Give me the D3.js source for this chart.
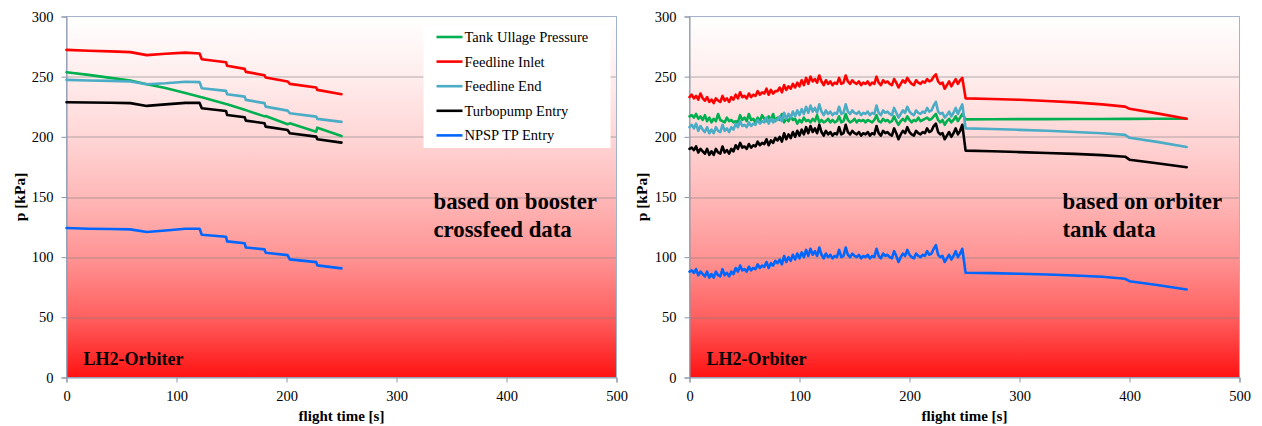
<!DOCTYPE html>
<html>
<head>
<meta charset="utf-8">
<script src="https://cdn.jsdelivr.net/npm/d3@7"></script>
<style>
  html, body { margin: 0; padding: 0; background: #fff; }
  svg { display: block; }
  text { font-family: "Liberation Serif", "Times New Roman", serif; fill: #000; }
</style>
</head>
<body>
<svg id="chart" width="1262" height="426"></svg>
<script>
// ---- series definitions -------------------------------------------------
const seriesNames = ["Tank Ullage Pressure", "Feedline Inlet", "Feedline End", "Turbopump Entry", "NPSP TP Entry"];
const seriesColors = ["#00B050", "#FF0000", "#4BACC6", "#000000", "#0066FF"];

// axis ticks
const xTicks = [0, 100, 200, 300, 400, 500];
const yTicks = [0, 50, 100, 150, 200, 250, 300];

// ---- left panel: booster crossfeed data (breakpoints, s / kPa) ----------
const leftTime = [0, 20, 40, 58, 73, 90, 108, 121, 123, 145, 146, 162, 163, 180, 181, 201, 203, 227, 228, 250];
const leftUllage   = [253.7, 251.5, 249, 246.8, 243.7, 240.5, 236.5, 233.4, 232.8, 227.3, 227, 222.5, 222.2, 217, 217.3, 210.5, 211.2, 204.3, 207.6, 200.7];
const leftInlet    = [272.3, 271.5, 271, 270.4, 267.9, 269, 270, 269.2, 264.5, 262, 259, 256.5, 254, 251.2, 249.3, 246, 244, 241, 239, 235.4];
const leftEnd      = [247.3, 246.8, 246.5, 246, 243.7, 244.5, 245.8, 245.5, 240.4, 238.2, 235.4, 233.4, 230.7, 228, 225.1, 221.8, 219.6, 216.8, 214.9, 212.4];
const leftTurbo    = [228.8, 228.5, 228.3, 228, 225.7, 227, 228.2, 228.2, 223.8, 221.5, 218.2, 216.3, 213.5, 211.3, 208.5, 205.7, 203, 200.2, 198, 195.2];
const leftNpsp     = [124.2, 123.6, 123.4, 123.1, 120.9, 122.2, 123.6, 123.6, 118.6, 117, 113.1, 111.5, 108.1, 106.5, 103.7, 101.7, 98.2, 95.9, 93.2, 90.7];

// ---- right panel: orbiter tank data --------------------------------------
// measured phase, sampled every 2 s from 0 to 248 s
const rightTimeMeasured = d3.range(0, 249, 2);
const rightUllageMeasured = [
  217,218,216,219,215,217,214,218,213,216,
  212,215,213,219,214,213,212,216,213,214,
  212,213,212,218,214,216,213,219,214,215,
  212,216,213,218,215,213,217,214,219,213,
  216,214,219,212,215,213,217,214,215,211,
  214,212,216,213,214,212,215,213,218,212,
  214,212,213,215,212,214,212,213,217,212,
  213,219,214,212,213,215,212,214,213,214,
  212,214,213,212,214,218,213,212,215,213,
  214,212,213,217,213,210,213,215,213,217,
  214,212,214,213,216,213,214,215,216,214,
  215,217,219,214,212,214,210,213,215,212,
  214,217,213,216,219];
const rightInletMeasured = [
  233,235,232,234,231,236,232,230,233,229,
  231,228,232,230,229,234,230,232,229,233,
  231,235,232,237,233,234,232,236,233,235,
  234,238,235,237,236,240,235,239,236,238,
  238,241,237,243,239,242,240,244,241,245,
  242,247,243,249,244,250,246,248,245,251,
  246,243,247,244,246,243,245,244,249,244,
  245,251,246,244,247,245,244,246,243,245,
  244,246,243,245,244,250,245,243,247,245,
  246,244,243,248,245,241,244,247,245,249,
  246,244,243,247,245,244,246,245,248,246,
  247,250,252,246,244,245,240,243,246,242,
  245,248,244,247,249];
const rightEndMeasured = [
  208,210,207,211,205,209,206,204,208,203,
  206,203,208,205,204,210,205,207,204,208,
  206,211,208,213,209,210,208,212,209,211,
  210,214,211,213,212,216,211,215,212,214,
  214,217,213,220,215,219,216,221,217,222,
  218,223,219,225,220,226,221,224,220,227,
  221,218,222,219,221,218,220,219,225,219,
  220,227,221,219,222,220,219,221,218,220,
  219,221,218,220,219,226,220,218,222,220,
  221,219,218,224,220,216,219,222,220,225,
  221,219,218,222,220,219,221,220,224,221,
  222,226,229,221,219,220,216,218,221,217,
  220,224,219,223,227];
const rightTurboMeasured = [
  190,191,189,192,187,190,188,186,190,185,
  188,185,190,187,186,192,187,189,186,190,
  188,193,190,195,191,192,190,194,191,193,
  192,196,193,195,194,198,193,197,195,199,
  197,200,196,203,198,202,199,204,200,205,
  201,206,202,208,203,209,204,207,203,210,
  204,201,205,202,204,201,203,202,208,202,
  203,210,204,202,205,203,202,204,201,203,
  202,204,201,203,202,209,203,201,205,203,
  204,202,201,207,203,198,202,205,203,208,
  204,202,201,205,203,202,204,203,207,204,
  205,209,211,204,202,203,198,201,204,200,
  203,207,202,205,210];
const rightNpspMeasured = [
  88,89,87,90,85,88,86,84,88,83,
  86,83,88,85,84,90,85,87,84,88,
  86,91,88,93,89,90,88,92,89,91,
  90,94,91,93,92,96,91,95,93,97,
  95,98,94,101,96,100,97,102,98,103,
  99,104,100,106,101,107,102,105,101,108,
  102,99,103,100,102,99,101,100,106,100,
  101,108,102,100,103,101,100,102,99,101,
  100,102,99,101,100,107,101,99,103,101,
  102,100,99,105,101,96,100,103,101,106,
  102,100,99,103,101,100,102,101,105,102,
  103,107,110,102,100,101,96,99,102,98,
  101,105,100,103,107];

// computed phase after 251 s (breakpoints)
const rightTimeTail = [251, 275, 300, 325, 350, 375, 396, 400, 425, 452];
const rightUllageTail = [214.5, 214.6, 214.7, 214.7, 214.8, 214.8, 214.9, 214.9, 215, 215];
const rightInletTail  = [232, 231.5, 230.8, 229.8, 228.6, 227, 225.1, 223.3, 219.5, 215];
const rightEndTail    = [207, 206.5, 205.8, 205, 204, 203, 201.6, 199.2, 195.8, 191.6];
const rightTurboTail  = [188.5, 188, 187.3, 186.6, 185.8, 184.8, 183.5, 181, 178, 174.7];
const rightNpspTail   = [87, 86.7, 86.2, 85.6, 84.8, 83.7, 82, 80, 76.8, 73.2];

// ---- helpers -------------------------------------------------------------
function zipPoints(times, values) {
  return times.map((t, i) => [t, values[i]]);
}

const leftSeries = [leftUllage, leftInlet, leftEnd, leftTurbo, leftNpsp]
  .map(v => zipPoints(leftTime, v));

const rightSeries = [
  [rightUllageMeasured, rightUllageTail],
  [rightInletMeasured, rightInletTail],
  [rightEndMeasured, rightEndTail],
  [rightTurboMeasured, rightTurboTail],
  [rightNpspMeasured, rightNpspTail]
].map(([m, tail]) => zipPoints(rightTimeMeasured, m).concat(zipPoints(rightTimeTail, tail)));

const svg = d3.select("#chart");
const defs = svg.append("defs");

// plot area background: white at the top fading to red at the bottom
const grad = defs.append("linearGradient")
  .attr("id", "bgGrad").attr("x1", 0).attr("y1", 0).attr("x2", 0).attr("y2", 1);
[[0, "#FFFFFF"], [0.167, "#FFEDED"], [0.333, "#FFD6D6"], [0.5, "#FFB8B8"],
 [0.667, "#FF9494"], [0.833, "#FF6060"], [1, "#FF1212"]]
  .forEach(([o, c]) => grad.append("stop").attr("offset", o).attr("stop-color", c));

function drawPanel(opts) {
  const W = 550, H = 361;
  const g = svg.append("g").attr("transform", `translate(${opts.left},16.5)`);

  const x = d3.scaleLinear().domain([0, 500]).range([0, W]);
  const y = d3.scaleLinear().domain([0, 300]).range([H, 0]);

  g.append("rect").attr("width", W).attr("height", H).attr("fill", "url(#bgGrad)");

  // horizontal gridlines
  g.append("g").selectAll("line").data(yTicks.filter(v => v > 0 && v < 300)).join("line")
    .attr("x1", 0).attr("x2", W)
    .attr("y1", d => Math.round(y(d)) + 0.5).attr("y2", d => Math.round(y(d)) + 0.5)
    .attr("stroke", "#808080").attr("stroke-opacity", 0.6).attr("stroke-width", 1);

  // plot border
  g.append("rect").attr("width", W).attr("height", H)
    .attr("fill", "none").attr("stroke", "#A3B3CF").attr("stroke-width", 1);

  // axes
  const yAxis = d3.axisLeft(y).tickValues(yTicks).tickSize(5).tickPadding(8);
  const xAxis = d3.axisBottom(x).tickValues(xTicks).tickSize(5).tickPadding(8);

  const ya = g.append("g").call(yAxis);
  const xa = g.append("g").attr("transform", `translate(0,${H})`).call(xAxis);
  [ya, xa].forEach(a => {
    a.select(".domain").attr("stroke", "#8C96A8");
    a.selectAll(".tick line").attr("stroke", "#8C96A8");
    a.selectAll(".tick text")
      .style("font-family", '"Liberation Serif", serif')
      .style("font-size", "14.5px").attr("fill", "#000");
  });

  // series lines
  const line = d3.line().x(d => x(d[0])).y(d => y(d[1]));
  g.append("g").selectAll("path").data(opts.series).join("path")
    .attr("d", line)
    .attr("fill", "none")
    .attr("stroke", (d, i) => seriesColors[i])
    .attr("stroke-width", 2.6)
    .attr("stroke-linejoin", "round")
    .attr("stroke-linecap", "round");

  // annotations
  g.append("text").attr("x", 17).attr("y", 348.5)
    .style("font-weight", "bold").style("font-size", "18px").text("LH2-Orbiter");
  const note = g.append("text").attr("x", opts.noteX).attr("y", 192.5)
    .style("font-weight", "bold").style("font-size", "22.8px");
  note.append("tspan").attr("x", opts.noteX).attr("dy", 0).text(opts.note[0]);
  note.append("tspan").attr("x", opts.noteX).attr("dy", 28).text(opts.note[1]);

  // axis titles
  g.append("text").attr("x", W / 2).attr("y", 404.5).attr("text-anchor", "middle")
    .style("font-weight", "bold").style("font-size", "15px").text("flight time [s]");
  g.append("text")
    .attr("transform", `translate(${opts.yTitleX},${H / 2}) rotate(-90)`)
    .attr("text-anchor", "middle")
    .style("font-weight", "bold").style("font-size", "15.5px").text("p [kPa]");

  return g;
}

const leftG = drawPanel({
  left: 66.5, series: leftSeries, noteX: 367,
  note: ["based on booster", "crossfeed data"], yTitleX: -42
});
drawPanel({
  left: 689.5, series: rightSeries, noteX: 373,
  note: ["based on orbiter", "tank data"], yTitleX: -43
});

// legend (left panel)
const legend = leftG.append("g").attr("transform", "translate(357,8.5)");
legend.append("rect").attr("width", 187).attr("height", 123).attr("fill", "#FFFFFF");
const rows = legend.selectAll("g.row").data(seriesNames).join("g")
  .attr("class", "row")
  .attr("transform", (d, i) => `translate(0,${12 + i * 24.6})`);
rows.append("line").attr("x1", 13).attr("x2", 39).attr("y1", 0).attr("y2", 0)
  .attr("stroke", (d, i) => seriesColors[i]).attr("stroke-width", 2.6);
rows.append("text").attr("x", 41).attr("y", 0).attr("dy", "0.35em")
  .style("font-size", "14.5px").text(d => d);
</script>
</body>
</html>
